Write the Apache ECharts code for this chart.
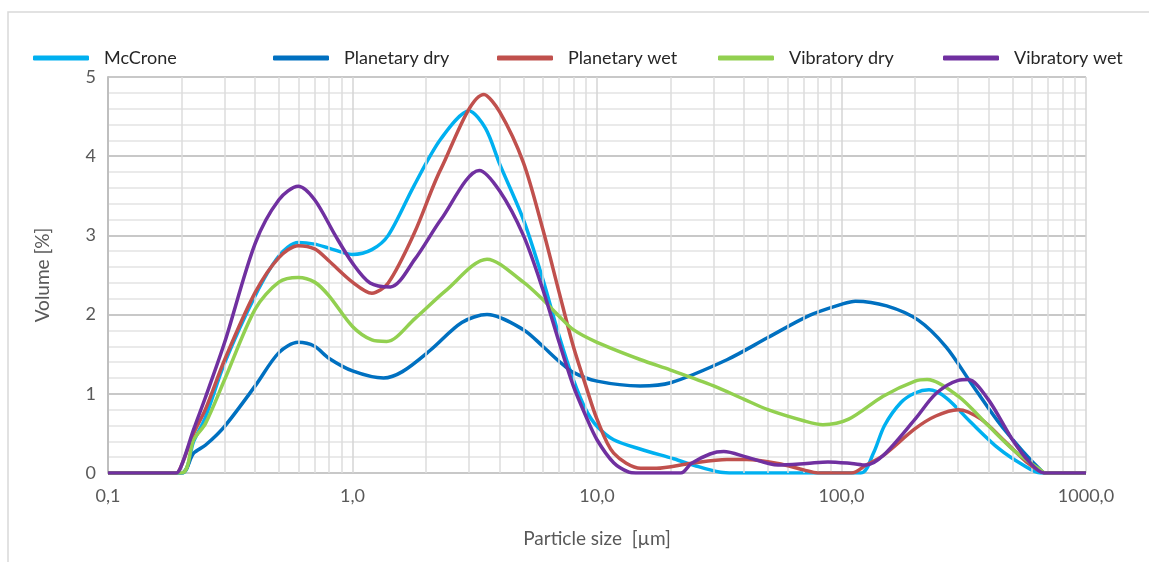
<!DOCTYPE html>
<html>
<head>
<meta charset="utf-8">
<script src="https://cdn.jsdelivr.net/npm/echarts@6/dist/echarts.min.js"></script>
<style>
  html, body { margin: 0; padding: 0; background: #fff; }
  #chart { width: 1149px; height: 562px; }
</style>
</head>
<body>
<div id="chart"></div>
<script>
// 各曲线数据 [粒径 µm, 体积 %]
var mcCrone = [[0.1,0],[0.2,0],[0.224,0.4],[0.25,0.7],[0.3,1.39],[0.4,2.24],[0.5,2.74],[0.6,2.91],[0.7,2.89],[0.8,2.84],[1.0,2.76],[1.2,2.82],[1.4,3.0],[1.78,3.62],[2.3,4.22],[3.0,4.57],[3.5,4.35],[4,3.9],[5,3.2],[6,2.45],[7,1.73],[8,1.18],[9,0.8],[10,0.59],[11.7,0.42],[15.1,0.3],[20.6,0.18],[26,0.08],[32,0.01],[36,0],[120,0],[135,0.25],[150,0.6],[175,0.89],[200,1.01],[228,1.05],[268,0.95],[338,0.64],[439,0.31],[553,0.1],[651,0],[1000,0]];
var planetaryDry = [[0.1,0],[0.2,0],[0.224,0.25],[0.25,0.35],[0.3,0.59],[0.4,1.1],[0.5,1.52],[0.6,1.65],[0.7,1.6],[0.8,1.45],[1.0,1.29],[1.34,1.2],[1.6,1.28],[2.08,1.55],[2.8,1.9],[3.55,2.0],[5,1.81],[6,1.6],[7,1.41],[8,1.27],[10,1.16],[15,1.1],[20,1.14],[34,1.43],[50,1.71],[74,1.99],[100,2.13],[114,2.17],[153,2.11],[206,1.93],[268,1.59],[338,1.14],[439,0.64],[553,0.27],[651,0.04],[680,0],[1000,0]];
var planetaryWet = [[0.1,0],[0.19,0],[0.2,0.1],[0.224,0.5],[0.25,0.8],[0.3,1.43],[0.4,2.28],[0.5,2.72],[0.6,2.87],[0.7,2.83],[0.8,2.68],[1.0,2.41],[1.2,2.27],[1.4,2.4],[1.79,3.03],[2.3,3.84],[3.45,4.78],[4,4.56],[5,3.92],[6,3.08],[7,2.28],[8,1.6],[9,1.1],[10,0.68],[11.7,0.25],[15.1,0.06],[17.5,0.06],[24,0.12],[34,0.17],[41,0.17],[55,0.12],[70,0.04],[80,0],[110,0],[126,0.1],[148,0.22],[200,0.56],[243,0.72],[300,0.8],[372,0.68],[469,0.39],[570,0.14],[651,0.02],[690,0],[1000,0]];
var vibratoryDry = [[0.1,0],[0.2,0],[0.224,0.42],[0.25,0.62],[0.3,1.18],[0.4,2.07],[0.5,2.41],[0.6,2.47],[0.7,2.41],[0.8,2.24],[1.0,1.85],[1.2,1.68],[1.38,1.66],[1.8,1.95],[2.4,2.3],[3.55,2.7],[5,2.41],[6,2.19],[7,1.98],[8,1.81],[10,1.65],[15.1,1.43],[20,1.3],[30,1.1],[40,0.93],[50,0.8],[70,0.66],[84,0.61],[107,0.68],[148,0.97],[200,1.16],[224,1.18],[300,0.97],[398,0.6],[514,0.27],[651,0.04],[680,0],[1000,0]];
var vibratoryWet = [[0.1,0],[0.19,0],[0.2,0.1],[0.224,0.55],[0.25,0.95],[0.3,1.65],[0.4,2.9],[0.5,3.45],[0.6,3.62],[0.7,3.45],[0.85,3.0],[1.0,2.65],[1.18,2.4],[1.43,2.35],[1.8,2.7],[2.3,3.2],[3.3,3.82],[4,3.56],[5,3.0],[6,2.32],[7,1.65],[8,1.1],[9,0.72],[10,0.42],[11.7,0.13],[13.5,0.01],[14.4,0],[22,0],[24.3,0.12],[29,0.24],[33,0.27],[41,0.2],[55,0.1],[72,0.12],[88,0.14],[110,0.12],[126,0.1],[148,0.22],[200,0.68],[243,1.0],[300,1.17],[330,1.18],[398,0.93],[498,0.43],[586,0.14],[674,0],[1000,0]];

var seriesNames = ['McCrone', 'Planetary dry', 'Planetary wet', 'Vibratory dry', 'Vibratory wet'];
var seriesColors = ['#00B0F0', '#0070C0', '#C0504D', '#92D050', '#7030A0'];
var seriesData = [mcCrone, planetaryDry, planetaryWet, vibratoryDry, vibratoryWet];

// x 轴刻度 (对数) 以及次网格线
var xTicks = [0.1, 1, 10, 100, 1000];
var xMinorLines = [0.2,0.3,0.4,0.5,0.6,0.7,0.8,0.9, 2,3,4,5,6,7,8,9, 20,30,40,50,60,70,80,90, 200,300,400,500,600,700,800,900];

var chart = echarts.init(document.getElementById('chart'));
var font = 'Lato, "Open Sans", sans-serif';

// 图例位置各不相同，所以每个图例单独放
var legendLeft = [28, 268, 492, 713, 938];
var legends = seriesNames.map(function (n, i) {
    return {
        data: [n],
        left: legendLeft[i],
        top: 44,
        icon: 'roundRect',
        itemWidth: 56,
        itemHeight: 5,
        itemGap: 0,
        textStyle: { fontFamily: font, fontSize: 18, color: '#262626', padding: [0, 0, 0, 10] }
    };
});

var series = seriesNames.map(function (n, i) {
    return {
        name: n,
        type: 'line',
        data: seriesData[i],
        smooth: 0.3,
        symbol: 'none',
        lineStyle: { width: 3.5, color: seriesColors[i] },
        itemStyle: { color: seriesColors[i] },
        z: 3 + i
    };
});

// 次网格竖线
series.unshift({
    name: 'minor',
    type: 'line',
    data: [],
    silent: true,
    markLine: {
        silent: true,
        symbol: 'none',
        label: { show: false },
        lineStyle: { color: '#dcdcdc', width: 1.5, type: 'solid' },
        data: xMinorLines.map(function (v) { return { xAxis: v }; })
    },
    z: 1
});

var option = {
    animation: false,
    backgroundColor: '#fff',
    graphic: [{
        type: 'rect',
        shape: { x: 8, y: 12, width: 1200, height: 600 },
        style: { fill: 'none', stroke: '#d9d9d9', lineWidth: 1.5 },
        silent: true
    }],
    legend: legends,
    grid: { left: 108, right: 63, top: 77, bottom: 89 },
    xAxis: {
        type: 'log',
        logBase: 10,
        min: 0.1,
        max: 1000,
        name: 'Particle size  [µm]',
        nameLocation: 'middle',
        nameGap: 56,
        nameTextStyle: { fontFamily: font, fontSize: 19, color: '#595959' },
        axisLine: { show: false },
        axisTick: { show: false },
        axisLabel: {
            fontFamily: font, fontSize: 18, color: '#595959', margin: 14,
            formatter: function (v) {
                for (var i = 0; i < xTicks.length; i++) {
                    if (Math.abs(v - xTicks[i]) < xTicks[i] * 1e-6) return xTicks[i].toFixed(1).replace('.', ',');
                }
                return '';
            }
        },
        splitLine: { show: true, lineStyle: { color: '#d4d4d4', width: 1.5 } }
    },
    yAxis: {
        type: 'value',
        min: 0,
        max: 5,
        interval: 1,
        name: 'Volume [%]',
        nameLocation: 'middle',
        nameGap: 56,
        nameTextStyle: { fontFamily: font, fontSize: 19, color: '#595959' },
        axisLine: { show: true, lineStyle: { color: '#bfbfbf', width: 2 } },
        axisTick: { show: false },
        axisLabel: { fontFamily: font, fontSize: 18, color: '#595959', margin: 12 },
        splitLine: { show: true, lineStyle: { color: '#c8c8c8', width: 2 } },
        minorTick: { show: false, splitNumber: 5 },
        minorSplitLine: { show: true, lineStyle: { color: '#e3e3e3', width: 1.5 } }
    },
    series: series
};

chart.setOption(option);
</script>
</body>
</html>
